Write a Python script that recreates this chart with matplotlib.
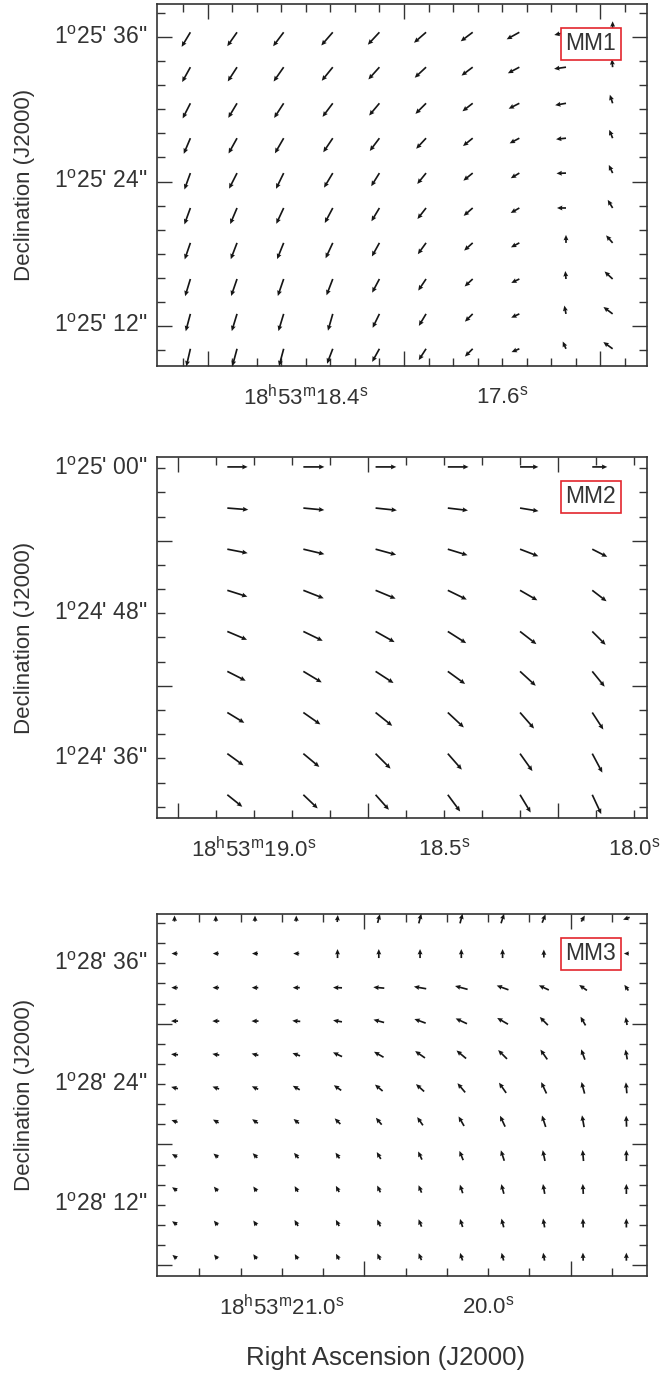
import matplotlib

matplotlib.use("Agg")
import matplotlib.pyplot as plt
import numpy as np
from matplotlib.transforms import blended_transform_factory

plt.rcParams["font.family"] = ["Liberation Sans", "DejaVu Sans"]
plt.rcParams["mathtext.fontset"] = "custom"
plt.rcParams["mathtext.rm"] = "Liberation Sans"
plt.rcParams["mathtext.it"] = "Liberation Sans"

INK = "#333333"
ARROW = "#161616"
BOX_EDGE = "#e3262e"

# ---- MM1: RA seconds (18h53m), Dec arcsec within 1d25m --------------------
mm1_ra = [18.87, 18.68, 18.49, 18.29, 18.10, 17.91, 17.72, 17.53, 17.34, 17.15]
mm1_dec = [36.4, 33.5, 30.5, 27.6, 24.7, 21.8, 18.9, 15.9, 13.0, 10.1]
mm1_ang = [
    [-121, -125, -127, -131, -133, -139, -143, -151, -167, 90],
    [-119, -123, -125, -129, -132, -137, -143, -152, -172, 95],
    [-117, -121, -123, -127, -130, -135, -142, -153, -170, 108],
    [-113, -119, -120, -124, -127, -133, -141, -152, -174, 112],
    [-110, -117, -116, -121, -122, -129, -141, -149, -178, 115],
    [-110, -113, -115, -118, -121, -128, -139, -150, 180, 121],
    [-109, -111, -112, -115, -119, -126, -138, -152, 90, 131],
    [-107, -109, -109, -111, -118, -124, -137, -154, 95, 137],
    [-105, -107, -107, -106, -116, -121, -135, -155, 101, 143],
    [-103, -105, -105, -111, -119, -123, -135, -157, 114, 144],
]
mm1_len = [
    [17, 17, 17.5, 17.5, 17, 16, 15, 14.5, 12, 11],
    [17, 17, 17.5, 17.5, 16.5, 15.5, 14, 13, 12, 8],
    [17, 17, 17.5, 17, 16, 15, 13, 12, 11, 9],
    [17, 17.5, 17.5, 17, 16, 14.5, 12.5, 11, 10, 9],
    [17.5, 17.5, 17.5, 17, 15.5, 14, 12, 10, 9.5, 9],
    [17.5, 17.5, 17.5, 17, 15.5, 14, 12, 10, 9, 9.5],
    [17.5, 17.5, 17.5, 17, 15.5, 14, 11.5, 9.5, 8, 10],
    [18, 18, 18, 17.5, 15.5, 14, 11, 9, 8, 11],
    [18, 18, 18, 17.5, 15.5, 14, 11, 9, 8.5, 11.5],
    [18, 18, 18, 16, 15, 13.5, 11, 8.5, 8, 11.5],
]

# ---- MM2: RA seconds (18h53m), Dec arcsec from 1d24m00s --------------------
mm2_ra = [19.07, 18.87, 18.68, 18.49, 18.30, 18.11]
mm2_dec = [60.1, 56.7, 53.3, 49.9, 46.5, 43.2, 39.8, 36.4, 33.0]
mm2_ang = [
    [0, 0, 0, 0, 0, 0],
    [-4.5, -5.4, -6, -6.7, -9.3, -12],
    [-11, -13.4, -15.3, -17, -21, -27],
    [-17.6, -21.5, -22.6, -26, -30, -37.5],
    [-23, -25.8, -29.3, -32.5, -37.8, -45],
    [-27, -31, -33, -36, -42.5, -51],
    [-31.3, -35, -38.7, -43, -48.8, -57],
    [-36, -39.8, -45, -48.8, -54.6, -62],
    [-38.7, -43.6, -48.4, -53.5, -59, -65],
]
mm2_len = [
    [20.3, 21, 20.7, 20.7, 18.3, 15],
    [21, 21, 21.4, 20.3, 18.7, 16],
    [20.7, 21.6, 21.3, 20.6, 19.6, 16.8],
    [21, 21.9, 21.7, 21.1, 20, 18],
    [21.4, 21.5, 21.8, 21.8, 20.7, 18.9],
    [20.6, 21.4, 21.4, 21.4, 21.3, 19.7],
    [19.9, 20.8, 21.3, 21.9, 21.3, 20.3],
    [20, 20.8, 21.2, 21.3, 21.4, 21.5],
    [19.2, 19.8, 20.1, 20.8, 20.7, 21.3],
]

# ---- MM3: RA seconds (18h53m), Dec arcsec within 1d28m ---------------------
mm3_ra = [21.52, 21.32, 21.13, 20.93, 20.73, 20.53,
          20.33, 20.13, 19.93, 19.73, 19.54, 19.33]
mm3_dec = [40.45, 36.97, 33.58, 30.26, 26.94, 23.63, 20.31, 16.9, 13.58, 10.2, 6.85]
mm3_ang = [
    [90, 90, 90, 90, 85, 75, 75, 75, 72, 68, 60, -160],
    [180, 180, 180, 180, 90, 90, 90, 90, 90, 90, 90, 180],
    [180, 180, 180, 180, 178, 175, 170, 165, 160, 155, 145, 125],
    [180, 180, 180, 175, 170, 165, 160, 155, 150, 135, 120, 100],
    [175, 170, 165, 160, 155, 150, 145, 140, 135, 125, 110, 100],
    [165, 160, 155, 150, 145, 140, 138, 130, 125, 115, 105, 95],
    [160, 150, 145, 140, 135, 130, 125, 120, 115, 108, 100, 92],
    [150, 140, 135, 130, 125, 120, 115, 112, 108, 102, 95, 90],
    [145, 130, 125, 120, 118, 115, 112, 108, 105, 100, 93, 90],
    [145, 130, 125, 120, 118, 115, 112, 108, 105, 100, 92, 90],
    [140, 130, 125, 120, 118, 115, 112, 108, 105, 100, 92, 90],
]
mm3_len = [
    [6, 6, 6, 6, 7, 9, 10, 10, 10, 9, 7, 7],
    [6, 6, 6, 6, 9, 9, 9, 9, 9, 8, 8, 5],
    [6.5, 6.5, 6.5, 7, 9, 11, 12.5, 13, 12.5, 11, 9.5, 7],
    [7, 7, 7, 8, 9, 11, 12, 12.5, 12.5, 11.5, 10, 8],
    [7, 7, 7, 8, 10, 11, 12, 12.5, 12.5, 12, 11, 10],
    [7, 7, 7, 8, 9, 10, 11, 12, 12.5, 12.5, 12, 11],
    [6.5, 6.5, 7, 7, 8, 9, 10, 11, 12, 12, 12, 11],
    [6, 6, 6.5, 7, 7, 8, 9, 10, 11, 11, 11, 11],
    [6, 6, 6, 6.5, 7, 7.5, 8, 9, 10, 10, 10, 10],
    [6, 6, 6, 7, 7, 7.5, 8, 8.5, 9, 9, 9, 9],
    [5.5, 5.5, 6, 6, 6.5, 7, 7.5, 8, 8, 8, 8, 8],
]


def sup(s):
    return r"$^{\rm %s}$" % s


def ra_label(sec, full=False):
    if full:
        return "18" + sup("h") + "53" + sup("m") + sec + sup("s")
    return sec + sup("s")


def dec_label(deg, amin, asec):
    return f"{deg}" + sup("o") + f"{amin}' {asec}\""


def draw_panel(ax, ra, dec, ang, length, xlim, ylim, xminor, xlong, xlabels,
               yminor, ylong, ylabels, name, pivot="tail"):
    X, Y = np.meshgrid(ra, dec)
    th = np.deg2rad(np.asarray(ang, float))
    L = np.asarray(length, float)
    ax.quiver(X, Y, L * np.cos(th), L * np.sin(th), angles="uv",
              scale_units="dots", scale=1, units="dots", width=1.7,
              headwidth=2.9, headlength=3.2, headaxislength=2.9,
              pivot=pivot, color=ARROW, clip_on=False, zorder=3)
    ax.set_xlim(*xlim)
    ax.set_ylim(*ylim)

    ax.set_xticks(xlong, labels=[])
    ax.set_xticks(xminor, minor=True)
    ax.set_yticks(ylong, labels=[])
    ax.set_yticks(yminor, minor=True)
    ax.tick_params(which="both", direction="in", top=True, right=True,
                   color=INK, width=1.0)
    ax.tick_params(which="major", length=10.5)
    ax.tick_params(which="minor", length=5.5)
    for sp in ax.spines.values():
        sp.set_color(INK)
        sp.set_linewidth(1.2)

    bx = blended_transform_factory(ax.transData, ax.transAxes)
    for pos, txt in xlabels:
        ax.annotate(txt, (pos, 0), xycoords=bx, xytext=(0, -22.5),
                    textcoords="offset points", ha="center", va="center",
                    fontsize=16, color=INK, annotation_clip=False)
    by = blended_transform_factory(ax.transAxes, ax.transData)
    for pos, txt in ylabels:
        ax.annotate(txt, (0, pos), xycoords=by, xytext=(-7, 0),
                    textcoords="offset points", ha="right", va="center",
                    fontsize=16.5, color=INK, annotation_clip=False)

    ax.text(0.885, 0.89, name, transform=ax.transAxes, ha="center",
            va="center", fontsize=16.5, color=INK, zorder=6,
            bbox=dict(boxstyle="square,pad=0.2", fc="white", ec=BOX_EDGE,
                      lw=1.2))


fig = plt.figure(figsize=(6.6, 13.77), dpi=100)
W, H = 660.0, 1377.0


def add_axes(top, bottom):
    return fig.add_axes([157 / W, 1 - bottom / H, 490 / W, (bottom - top) / H])


ax1 = add_axes(4, 366)
ax2 = add_axes(457, 818)
ax3 = add_axes(914, 1276)

draw_panel(
    ax1, mm1_ra, mm1_dec, mm1_ang, mm1_len,
    xlim=(19.006, 17.01), ylim=(8.67, 38.75),
    xminor=np.arange(17.1, 18.95, 0.1), xlong=[18.8, 18.0, 17.2],
    xlabels=[(18.4, ra_label("18.4", True)), (17.6, ra_label("17.6"))],
    yminor=np.arange(10, 39, 2), ylong=[36, 24, 12],
    ylabels=[(36, dec_label(1, 25, 36)), (24, dec_label(1, 25, 24)),
             (12, dec_label(1, 25, 12))],
    name="MM1",
)
draw_panel(
    ax2, mm2_ra, mm2_dec, mm2_ang, mm2_len,
    xlim=(19.255, 17.966), ylim=(31.08, 60.92),
    xminor=np.arange(18.0, 19.25, 0.1), xlong=[19.2, 18.7, 18.2],
    xlabels=[(19.0, ra_label("19.0", True)), (18.5, ra_label("18.5")),
             (18.0, ra_label("18.0"))],
    yminor=np.arange(32, 61, 2), ylong=[54, 42],
    ylabels=[(60, dec_label(1, 25, "00")), (48, dec_label(1, 24, 48)),
             (36, dec_label(1, 24, 36))],
    name="MM2",
)
draw_panel(
    ax3, mm3_ra, mm3_dec, mm3_ang, mm3_len,
    xlim=(21.605, 19.23), ylim=(4.93, 40.9),
    xminor=np.arange(19.4, 21.55, 0.2), xlong=[20.6, 19.6],
    xlabels=[(21.0, ra_label("21.0", True)), (20.0, ra_label("20.0"))],
    yminor=np.arange(6, 41, 2), ylong=[30, 18, 6],
    ylabels=[(36, dec_label(1, 28, 36)), (24, dec_label(1, 28, 24)),
             (12, dec_label(1, 28, 12))],
    name="MM3", pivot="middle",
)

for top, bottom in [(4, 366), (457, 818), (914, 1276)]:
    fig.text(25 / W, 1 - (top + bottom) / 2 / H, "Declination (J2000)",
             rotation=90, ha="center", va="center", fontsize=16, color=INK)
fig.text(386 / W, 1 - 1358 / H, "Right Ascension (J2000)", ha="center",
         va="center", fontsize=18.5, color=INK)

fig.savefig("out.png", dpi=100)
